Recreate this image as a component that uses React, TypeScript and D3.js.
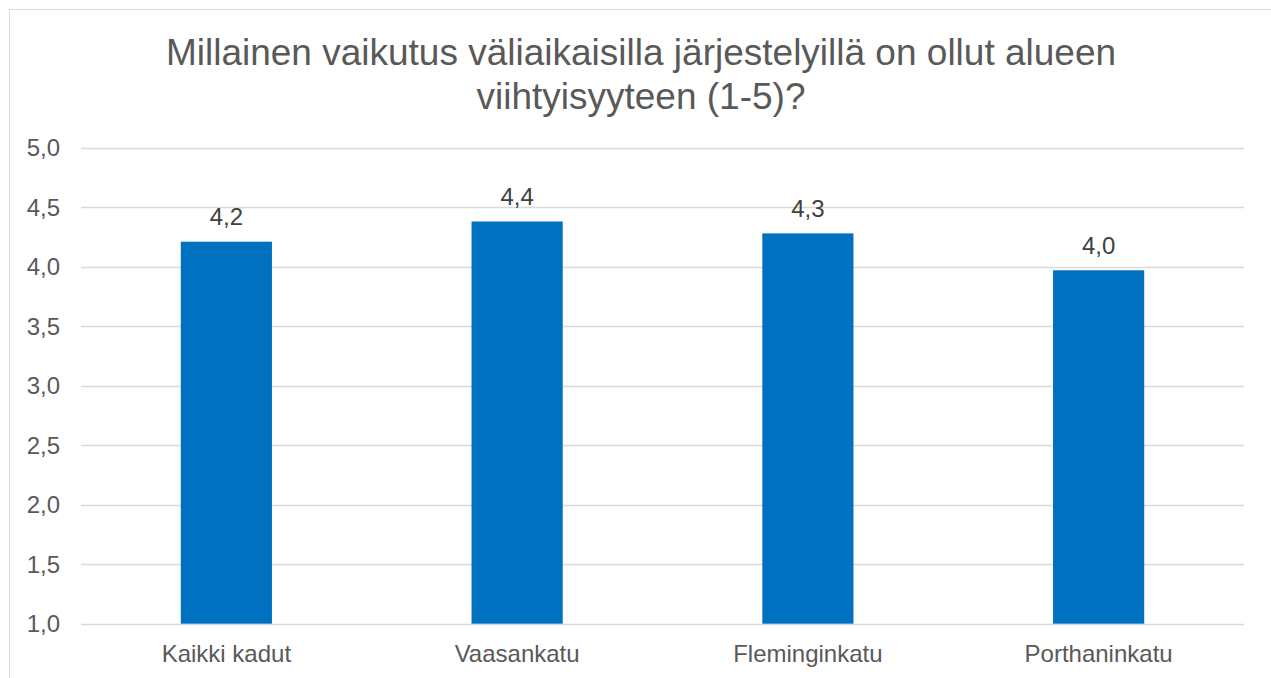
import React from "react";
import * as d3 from "d3";

const categories = ["Kaikki kadut", "Vaasankatu", "Fleminginkatu", "Porthaninkatu"];
const values = [4.21, 4.38, 4.28, 3.97];
const yTicks = [1.0, 1.5, 2.0, 2.5, 3.0, 3.5, 4.0, 4.5, 5.0];
const titleLines = ["Millainen vaikutus väliaikaisilla järjestelyillä on ollut alueen", "viihtyisyyteen (1-5)?"];

const W = 1271;
const H = 678;
const FONT = "'Liberation Sans', Arial, sans-serif";

export default function App() {
  const x = d3.scaleBand<string>().domain(categories).range([81, 1244]).paddingInner(0).paddingOuter(0);
  const y = d3.scaleLinear().domain([1, 5]).range([623.7, 147.7]);
  const barW = x.bandwidth() * 0.3135;
  const fmt = (v: number) => d3.format(".1f")(v).replace(".", ",");

  return (
    <svg width={W} height={H} style={{ position: "absolute", left: 0, top: 0, background: "#fff" }} fontFamily={FONT}>
      <rect x={9.5} y={9.5} width={1400} height={800} fill="#fff" stroke="#d9d9d9" strokeWidth={1} />
      {titleLines.map((t, i) => (
        <text key={i} x={641} y={64.5 + i * 44.5} textAnchor="middle" fontSize={37} fill="#595959">
          {t}
        </text>
      ))}
      {yTicks.map((t) => (
        <g key={t}>
          <line x1={81} x2={1244} y1={Math.round(y(t)) + 0.5} y2={Math.round(y(t)) + 0.5} stroke="#d9d9d9" strokeWidth={1.3} />
          <text x={60} y={y(t) + 8.6} textAnchor="end" fontSize={24} fill="#595959">
            {fmt(t)}
          </text>
        </g>
      ))}
      {categories.map((c, i) => {
        const cx = (x(c) as number) + x.bandwidth() / 2;
        return (
          <g key={c}>
            <rect x={cx - barW / 2} y={y(values[i])} width={barW} height={y(1) - y(values[i])} fill="#0070C0" />
            <text x={cx} y={y(values[i]) - 16.5} textAnchor="middle" fontSize={24} fill="#404040">
              {fmt(values[i])}
            </text>
            <text x={cx} y={661.5} textAnchor="middle" fontSize={24} fill="#595959">
              {c}
            </text>
          </g>
        );
      })}
    </svg>
  );
}
